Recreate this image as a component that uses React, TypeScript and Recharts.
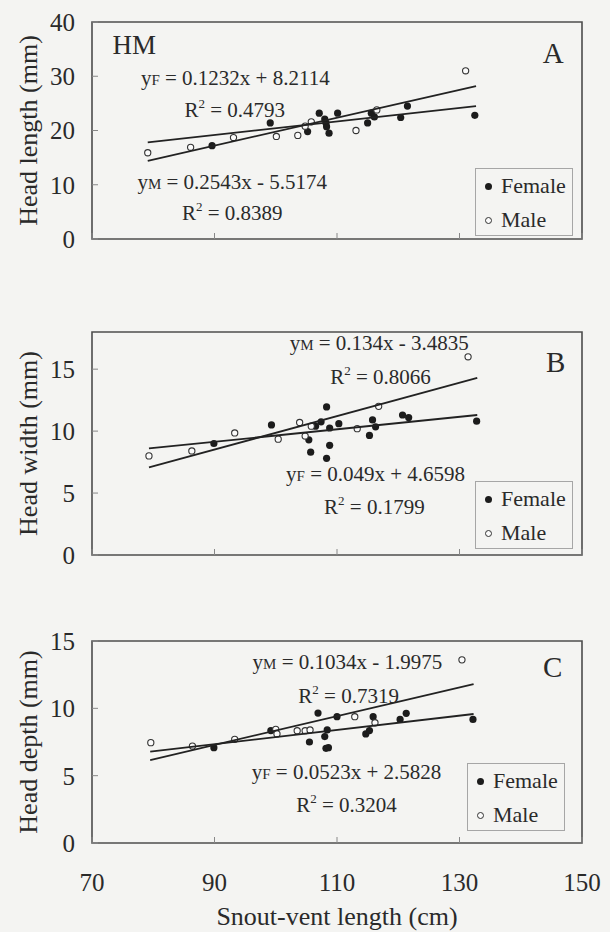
import React from "react";
import { Legend, ReferenceArea, ReferenceDot, Scatter, ScatterChart, XAxis, YAxis } from "recharts";

const FONT = '"Liberation Serif", "Times New Roman", serif';
const INK = "#2a2a2a";

const SVL_TICKS = [70, 90, 110, 130, 150];

// A: head length vs SVL
const HL_TICKS = [0, 10, 20, 30, 40];
const HL_FEMALE = [
  { x: 89.6, y: 17.2 }, { x: 99.1, y: 21.4 }, { x: 105.2, y: 19.8 }, { x: 107.1, y: 23.2 },
  { x: 108.0, y: 22.1 }, { x: 108.2, y: 21.4 }, { x: 108.3, y: 20.7 }, { x: 108.7, y: 19.5 },
  { x: 110.1, y: 23.2 }, { x: 115.0, y: 21.4 }, { x: 115.6, y: 23.2 }, { x: 116.1, y: 22.5 },
  { x: 120.4, y: 22.4 }, { x: 121.5, y: 24.5 }, { x: 132.5, y: 22.8 },
];
const HL_MALE = [
  { x: 79.1, y: 15.9 }, { x: 86.1, y: 16.9 }, { x: 93.1, y: 18.7 }, { x: 100.1, y: 18.9 },
  { x: 103.6, y: 19.1 }, { x: 104.8, y: 20.8 }, { x: 105.8, y: 21.6 }, { x: 113.1, y: 20.0 },
  { x: 116.5, y: 23.8 }, { x: 131.0, y: 31.0 },
];
const HL_FIT_F = [{ x: 79.1, y: 17.8 }, { x: 132.7, y: 24.5 }];
const HL_FIT_M = [{ x: 79.1, y: 14.4 }, { x: 132.7, y: 28.2 }];

// B: head width vs SVL
const HW_TICKS = [0, 5, 10, 15];
const HW_FEMALE = [
  { x: 89.9, y: 9.0 }, { x: 99.3, y: 10.5 }, { x: 105.4, y: 9.3 }, { x: 105.7, y: 8.3 },
  { x: 106.5, y: 10.4 }, { x: 107.4, y: 10.75 }, { x: 108.3, y: 11.95 }, { x: 108.8, y: 10.25 },
  { x: 108.8, y: 8.85 }, { x: 108.3, y: 7.8 }, { x: 110.3, y: 10.6 }, { x: 115.3, y: 9.65 },
  { x: 115.8, y: 10.9 }, { x: 116.3, y: 10.35 }, { x: 120.7, y: 11.3 }, { x: 121.7, y: 11.1 },
  { x: 132.8, y: 10.8 },
];
const HW_MALE = [
  { x: 79.3, y: 8.0 }, { x: 86.3, y: 8.4 }, { x: 93.3, y: 9.85 }, { x: 100.4, y: 9.35 },
  { x: 103.9, y: 10.7 }, { x: 104.8, y: 9.6 }, { x: 105.8, y: 10.4 }, { x: 113.3, y: 10.2 },
  { x: 116.8, y: 12.0 }, { x: 131.4, y: 16.0 },
];
const HW_FIT_F = [{ x: 79.3, y: 8.6 }, { x: 132.9, y: 11.3 }];
const HW_FIT_M = [{ x: 79.3, y: 7.07 }, { x: 132.9, y: 14.3 }];

// C: head depth vs SVL
const HD_TICKS = [0, 5, 10, 15];
const HD_FEMALE = [
  { x: 89.9, y: 7.08 }, { x: 99.2, y: 8.35 }, { x: 106.9, y: 9.65 }, { x: 105.5, y: 7.5 },
  { x: 108.0, y: 7.9 }, { x: 108.4, y: 8.4 }, { x: 108.2, y: 7.03 }, { x: 108.6, y: 7.08 },
  { x: 110.0, y: 9.38 }, { x: 114.7, y: 8.1 }, { x: 115.3, y: 8.35 }, { x: 115.9, y: 9.38 },
  { x: 120.3, y: 9.18 }, { x: 121.3, y: 9.63 }, { x: 132.2, y: 9.18 },
];
const HD_MALE = [
  { x: 79.6, y: 7.45 }, { x: 86.4, y: 7.2 }, { x: 93.3, y: 7.7 }, { x: 100.0, y: 8.44 },
  { x: 100.2, y: 8.1 }, { x: 103.5, y: 8.34 }, { x: 104.8, y: 8.34 }, { x: 105.6, y: 8.39 },
  { x: 112.9, y: 9.38 }, { x: 116.2, y: 8.93 }, { x: 130.4, y: 13.6 },
];
const HD_FIT_F = [{ x: 79.5, y: 6.78 }, { x: 132.3, y: 9.58 }];
const HD_FIT_M = [{ x: 79.5, y: 6.16 }, { x: 132.3, y: 11.8 }];

type Note = { x: number; y: number; kind: "fit" | "r2" | "tag"; sub?: string; text: string; size?: number };

const PANELS = [
  {
    id: "A", top: 0, height: 262, plotTop: 22, xAxisHeight: 11, domain: [0, 40], ticks: HL_TICKS,
    title: "Head length (mm)", female: HL_FEMALE, male: HL_MALE, fitF: HL_FIT_F, fitM: HL_FIT_M,
    legend: { top: 168, left: 475 }, showX: false,
    notes: [
      { x: 76.9, y: 35.8, kind: "tag", text: "HM", size: 27 },
      { x: 145.3, y: 34.3, kind: "tag", text: "A", size: 29 },
      { x: 93.4, y: 29.7, kind: "fit", sub: "F", text: " = 0.1232x + 8.2114" },
      { x: 93.3, y: 23.8, kind: "r2", text: " = 0.4793" },
      { x: 92.9, y: 10.5, kind: "fit", sub: "M", text: " = 0.2543x - 5.5174" },
      { x: 92.9, y: 4.8, kind: "r2", text: " = 0.8389" },
    ] as Note[],
  },
  {
    id: "B", top: 300, height: 277, plotTop: 32, xAxisHeight: 10, domain: [0, 18], ticks: HW_TICKS,
    title: "Head width (mm)", female: HW_FEMALE, male: HW_MALE, fitF: HW_FIT_F, fitM: HW_FIT_M,
    legend: { top: 181, left: 475 }, showX: false,
    notes: [
      { x: 145.7, y: 15.56, kind: "tag", text: "B", size: 29 },
      { x: 116.9, y: 17.1, kind: "fit", sub: "M", text: " = 0.134x - 3.4835" },
      { x: 117.1, y: 14.35, kind: "r2", text: " = 0.8066" },
      { x: 116.3, y: 6.53, kind: "fit", sub: "F", text: " = 0.049x + 4.6598" },
      { x: 116.1, y: 3.87, kind: "r2", text: " = 0.1799" },
    ] as Note[],
  },
  {
    id: "C", top: 600, height: 332, plotTop: 41, xAxisHeight: 89, domain: [0, 15], ticks: HD_TICKS,
    title: "Head depth (mm)", female: HD_FEMALE, male: HD_MALE, fitF: HD_FIT_F, fitM: HD_FIT_M,
    legend: { top: 163, left: 467 }, showX: true,
    notes: [
      { x: 145.2, y: 13.07, kind: "tag", text: "C", size: 29 },
      { x: 111.7, y: 13.44, kind: "fit", sub: "M", text: " = 0.1034x - 1.9975" },
      { x: 111.9, y: 10.9, kind: "r2", text: " = 0.7319" },
      { x: 111.55, y: 5.27, kind: "fit", sub: "F", text: " = 0.0523x + 2.5828" },
      { x: 111.55, y: 2.82, kind: "r2", text: " = 0.3204" },
    ] as Note[],
  },
];

const femaleDot = (p: any) => <circle cx={p.cx} cy={p.cy} r={3.6} fill="#1c1c1c" />;
const maleDot = (p: any) => <circle cx={p.cx} cy={p.cy} r={3.1} fill="#fbfbfb" stroke="#333" strokeWidth={1.1} />;
const noDot = () => <g />;

function NoteText({ cx, cy, note }: { cx: number; cy: number; note: Note }) {
  const size = note.size ?? 21;
  const common = { x: cx, y: cy, dy: "0.34em", textAnchor: "middle" as const, fill: INK, fontFamily: FONT, fontSize: size };
  if (note.kind === "fit") {
    return (
      <text {...common}>
        y<tspan fontSize={15}>{note.sub}</tspan>{note.text}
      </text>
    );
  }
  if (note.kind === "r2") {
    return (
      <text {...common}>
        R<tspan fontSize={13} dy={-9}>2</tspan><tspan dy={9}>{note.text}</tspan>
      </text>
    );
  }
  return <text {...common}>{note.text}</text>;
}

const MARKS: Record<string, React.CSSProperties> = {
  Female: { background: "#1c1c1c" },
  Male: { background: "#fbfbfb", border: "1px solid #333", boxSizing: "border-box" },
};

function LegendBox({ payload }: any) {
  const names: string[] = payload && payload.length ? payload.map((p: any) => p.value) : ["Female", "Male"];
  return (
    <div style={{ width: 98, height: 68, border: "1px solid #a6a6a6", boxSizing: "border-box", fontFamily: FONT, fontSize: 22, color: INK }}>
      {names.map((n) => (
        <div key={n} style={{ height: 34, display: "flex", alignItems: "center" }}>
          <span style={{ display: "inline-block", width: 7, height: 7, borderRadius: "50%", marginLeft: 9, marginRight: 9, ...MARKS[n] }} />
          {n}
        </div>
      ))}
    </div>
  );
}

function Panel({ cfg }: { cfg: (typeof PANELS)[number] }) {
  const tickStyle = { fill: INK, fontSize: 25, fontFamily: FONT };
  const bottom = cfg.height - cfg.plotTop - (cfg.showX ? 202 : cfg.id === "A" ? 217 : 223) - cfg.xAxisHeight;
  return (
    <div style={{ position: "absolute", left: 0, top: cfg.top }}>
      <ScatterChart width={610} height={cfg.height} margin={{ top: cfg.plotTop, right: 28, bottom, left: 0 }}>
        <XAxis
          type="number"
          dataKey="x"
          domain={[70, 150]}
          ticks={SVL_TICKS}
          interval={0}
          height={cfg.xAxisHeight}
          axisLine={false}
          tickSize={-6}
          tickMargin={cfg.showX ? 36 : 0}
          tickLine={{ stroke: "#888" }}
          tick={tickStyle}
          tickFormatter={cfg.showX ? undefined : () => ""}
          label={
            cfg.showX
              ? {
                  value: "Snout-vent length (cm)",
                  content: (p: any) => {
                    const vb = p.viewBox || { x: 92, y: 843, width: 490 };
                    return (
                      <text x={vb.x + vb.width / 2} y={vb.y + 82} textAnchor="middle" fill={INK} fontFamily={FONT} fontSize={26}>
                        Snout-vent length (cm)
                      </text>
                    );
                  },
                }
              : undefined
          }
        />
        <YAxis
          type="number"
          dataKey="y"
          domain={cfg.domain}
          ticks={cfg.ticks}
          interval={0}
          width={92}
          axisLine={false}
          tickSize={-6}
          tickMargin={23}
          tickLine={{ stroke: "#888" }}
          tick={tickStyle}
          label={{
            value: cfg.title,
            content: (p: any) => {
              const vb = p.viewBox || { x: 0, y: cfg.plotTop, width: 92, height: 200 };
              const cx = vb.x + 28;
              const cy = vb.y + vb.height / 2;
              return (
                <text x={cx} y={cy} dy="0.34em" transform={`rotate(-90 ${cx} ${cy})`} textAnchor="middle" fill={INK} fontFamily={FONT} fontSize={26}>
                  {cfg.title}
                </text>
              );
            },
          }}
        />
        <ReferenceArea x1={70} x2={150} y1={cfg.domain[0]} y2={cfg.domain[1]} fill="none" stroke="#4d4d4d" strokeWidth={1.6} />
        <Scatter name="Female" data={cfg.female} shape={femaleDot} isAnimationActive={false} />
        <Scatter name="Male" data={cfg.male} shape={maleDot} isAnimationActive={false} />
        <Scatter data={cfg.fitF} line={{ stroke: "#222", strokeWidth: 1.8 }} shape={noDot} legendType="none" isAnimationActive={false} />
        <Scatter data={cfg.fitM} line={{ stroke: "#222", strokeWidth: 1.8 }} shape={noDot} legendType="none" isAnimationActive={false} />
        {cfg.notes.map((n, i) => (
          <ReferenceDot key={i} x={n.x} y={n.y} r={0} shape={(p: any) => <NoteText cx={p.cx} cy={p.cy} note={n} />} />
        ))}
        <Legend
          layout="vertical"
          align="center"
          verticalAlign="middle"
          wrapperStyle={{ top: cfg.legend.top, left: cfg.legend.left, width: "auto" }}
          content={LegendBox}
        />
      </ScatterChart>
    </div>
  );
}

export default function App() {
  return (
    <div style={{ position: "absolute", left: 0, top: 0, width: 610, height: 932, background: "#f4f4f2", overflow: "hidden" }}>
      {PANELS.map((cfg) => (
        <Panel key={cfg.id} cfg={cfg} />
      ))}
    </div>
  );
}
